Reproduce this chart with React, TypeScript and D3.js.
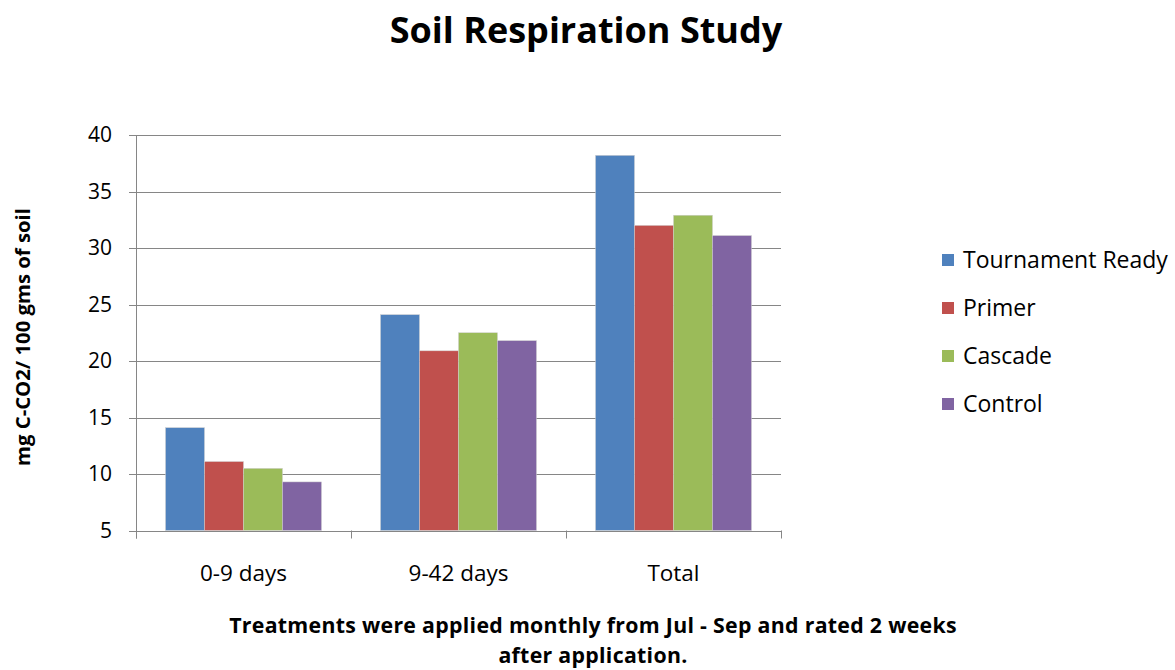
import React from "react";
import * as d3 from "d3";

const categories = ["0-9 days", "9-42 days", "Total"];
const seriesNames = ["Tournament Ready", "Primer", "Cascade", "Control"];
const seriesColors = ["#4F81BD", "#C0504D", "#9BBB59", "#8064A2"];
const tournamentReady = [14.1, 24.1, 38.2];
const primer = [11.1, 20.9, 32.0];
const cascade = [10.5, 22.5, 32.9];
const control = [9.3, 21.8, 31.1];
const yTicks = [5, 10, 15, 20, 25, 30, 35, 40];

const seriesValues = [tournamentReady, primer, cascade, control];

const FONT = "'Open Sans', Lato, sans-serif";

export default function App() {
  const W = 1175, H = 670;
  const left = 136, right = 781, top = 135, bottom = 530.5;
  const y = d3.scaleLinear().domain([5, 40]).range([bottom, top]);
  const x0 = d3.scaleBand<string>().domain(categories).range([left, right]).paddingInner(0).paddingOuter(0);
  const groupPad = 29.5;
  const x1 = d3.scaleBand<string>().domain(seriesNames).range([groupPad, x0.bandwidth() - groupPad]).padding(0);
  const axisColor = "#868686";
  return (
    <svg width={W} height={H} style={{ position: "absolute", left: 0, top: 0, background: "#fff" }}>
      <text x={586} y={43} textAnchor="middle" fontFamily={FONT} fontWeight="bold" fontSize={36} fill="#000">
        Soil Respiration Study
      </text>
      {yTicks.map((t) => (
        <g key={t}>
          <line x1={left - 7} x2={right} y1={Math.round(y(t)) + 0.5} y2={Math.round(y(t)) + 0.5} stroke={axisColor} strokeWidth={1} />
          <text x={112} y={y(t) + 7} textAnchor="end" fontFamily={FONT} fontSize={21} fill="#000">{t}</text>
        </g>
      ))}
      {categories.map((c, ci) => (
        <g key={c} transform={`translate(${x0(c)},0)`}>
          {seriesNames.map((s, si) => {
            const v = seriesValues[si][ci];
            return (
              <rect key={s} x={x1(s)} y={y(v)} width={x1.bandwidth()} height={bottom - y(v)}
                fill={seriesColors[si]} stroke="#d0d0d0" strokeWidth={0.5} />
            );
          })}
          <text x={x0.bandwidth() / 2} y={581} textAnchor="middle" fontFamily={FONT} fontSize={22.5} fill="#000">{c}</text>
        </g>
      ))}
      <line x1={left + 0.5} x2={left + 0.5} y1={top} y2={bottom + 8} stroke={axisColor} />
      {[...categories.map((c) => x0(c) as number), right].map((xx, i) => (
        <line key={i} x1={Math.round(xx) + 0.5} x2={Math.round(xx) + 0.5} y1={bottom} y2={bottom + 8} stroke={axisColor} />
      ))}
      <line x1={left} x2={right} y1={Math.round(bottom) + 0.5} y2={Math.round(bottom) + 0.5} stroke={axisColor} />
      <text transform={`translate(30,337) rotate(-90)`} textAnchor="middle" fontFamily={FONT} fontWeight="bold" fontSize={20.3} fill="#000">
        mg C-CO2/ 100 gms of soil
      </text>
      <text x={593} y={633} textAnchor="middle" fontFamily={FONT} fontWeight="bold" fontSize={21.3} letterSpacing={0.3} fill="#000">
        Treatments were applied monthly  from Jul - Sep and  rated 2 weeks
      </text>
      <text x={593} y={663} textAnchor="middle" fontFamily={FONT} fontWeight="bold" fontSize={21.3} letterSpacing={0.3} fill="#000">
        after application.
      </text>
      {seriesNames.map((s, i) => (
        <g key={s} transform={`translate(942,${260 + i * 48})`}>
          <rect x={0} y={-6} width={12} height={12} fill={seriesColors[i]} />
          <text x={21} y={8} fontFamily={FONT} fontSize={23} fill="#000">{s}</text>
        </g>
      ))}
    </svg>
  );
}
